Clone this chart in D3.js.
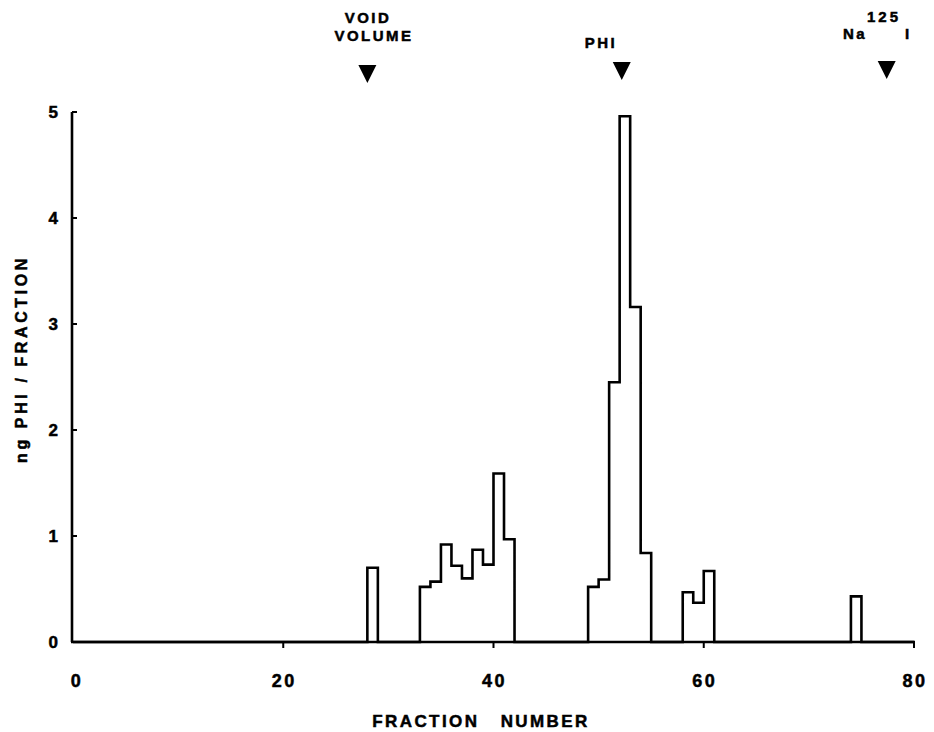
<!DOCTYPE html>
<html>
<head>
<meta charset="utf-8">
<script src="https://cdn.jsdelivr.net/npm/d3@7"></script>
<style>
  body { margin: 0; background: #fff; }
  text { font-family: "Liberation Sans", Arial, sans-serif; font-weight: bold; fill: #000; stroke: #000; stroke-width: 0.5px; }
</style>
</head>
<body>
<svg id="chart" width="934" height="732"></svg>
<script>
// Fractions with non-zero PHI content and their values (ng PHI / fraction)
const fractions = [28, 33, 34, 35, 36, 37, 38, 39, 40, 41, 49, 50, 51, 52, 53, 54, 58, 59, 60, 74];
const values    = [0.70, 0.52, 0.57, 0.92, 0.72, 0.60, 0.87, 0.73, 1.59, 0.97, 0.52, 0.59, 2.45, 4.96, 3.16, 0.84, 0.47, 0.37, 0.67, 0.43];
const xTicks = [0, 20, 40, 60, 80];
const yTicks = [0, 1, 2, 3, 4, 5];
const markerPositions = [28.0, 52.2, 77.4];

const svg = d3.select("#chart");
const x = d3.scaleLinear().domain([0, 80]).range([73, 914]);
const y = d3.scaleLinear().domain([0, 5]).range([642, 112]);

// build full series 0..80 (zeros where no bar)
const lookup = new Map(fractions.map((f, i) => [f, values[i]]));
const series = d3.range(0, 81).map(f => ({ f, v: lookup.get(f) || 0 }));

// axes lines
svg.append("line").attr("x1", x(0) - 2).attr("x2", x(80) + 1).attr("y1", y(0)).attr("y2", y(0))
  .attr("stroke", "#000").attr("stroke-width", 2.6);
svg.append("line").attr("x1", x(0) - 1).attr("x2", x(0) - 1).attr("y1", y(5)).attr("y2", y(0))
  .attr("stroke", "#000").attr("stroke-width", 2.6);

// y ticks (pointing inward)
svg.selectAll(".ytick").data(yTicks.filter(d => d > 0)).enter().append("line")
  .attr("x1", x(0) - 1).attr("x2", x(0) + 4).attr("y1", d => y(d)).attr("y2", d => y(d))
  .attr("stroke", "#000").attr("stroke-width", 2);
svg.selectAll(".ylab").data(yTicks).enter().append("text")
  .attr("x", 58).attr("y", d => y(d)).attr("dy", "0.36em")
  .attr("text-anchor", "end").style("font-size", "17px").text(d => d);

// x ticks (pointing down)
svg.selectAll(".xtick").data(xTicks.filter(d => d > 0)).enter().append("line")
  .attr("x1", d => x(d)).attr("x2", d => x(d)).attr("y1", y(0)).attr("y2", y(0) + 6)
  .attr("stroke", "#000").attr("stroke-width", 2);
svg.selectAll(".xlab").data(xTicks).enter().append("text")
  .attr("x", d => x(d) + (d === 0 ? 4 : 1)).attr("y", 687)
  .attr("text-anchor", "middle").style("font-size", "18px").style("letter-spacing", "2.5px").text(d => d);

// axis titles
svg.append("text").attr("x", 481).attr("y", 727).attr("text-anchor", "middle")
  .style("font-size", "17px").style("letter-spacing", "2.4px")
  .attr("xml:space", "preserve").text("FRACTION   NUMBER");
svg.append("text").attr("transform", "translate(27,359) rotate(-90)")
  .attr("text-anchor", "middle").style("font-size", "16px").style("letter-spacing", "3.6px")
  .text("ng PHI / FRACTION");

// histogram outline
const line = d3.line().x(d => x(d.f)).y(d => y(d.v)).curve(d3.curveStepAfter);
svg.append("path").datum(series).attr("d", line)
  .attr("fill", "none").attr("stroke", "#000").attr("stroke-width", 2.6)
  .attr("stroke-linejoin", "miter");

// markers (down-pointing triangles)
const triTop = [65, 62, 61];
markerPositions.forEach((p, i) => {
  const cx = x(p), t = triTop[i];
  svg.append("path").attr("d", `M${cx - 9},${t} L${cx + 9},${t} L${cx},${t + 18} Z`).attr("fill", "#000");
});
// labels
svg.append("text").attr("x", 368).attr("y", 23).attr("text-anchor", "middle")
  .style("font-size", "15px").style("letter-spacing", "2.5px").text("VOID");
svg.append("text").attr("x", 374).attr("y", 41).attr("text-anchor", "middle")
  .style("font-size", "15px").style("letter-spacing", "2.5px").text("VOLUME");
svg.append("text").attr("x", 601).attr("y", 48).attr("text-anchor", "middle")
  .style("font-size", "15px").style("letter-spacing", "2.5px").text("PHI");
svg.append("text").attr("x", 884).attr("y", 22).attr("text-anchor", "middle")
  .style("font-size", "15px").style("letter-spacing", "3px").text("125");
svg.append("text").attr("x", 855).attr("y", 39).attr("text-anchor", "middle")
  .style("font-size", "15px").style("letter-spacing", "2.5px").text("Na");
svg.append("text").attr("x", 907).attr("y", 39).attr("text-anchor", "middle")
  .style("font-size", "15px").text("I");
</script>
</body>
</html>
